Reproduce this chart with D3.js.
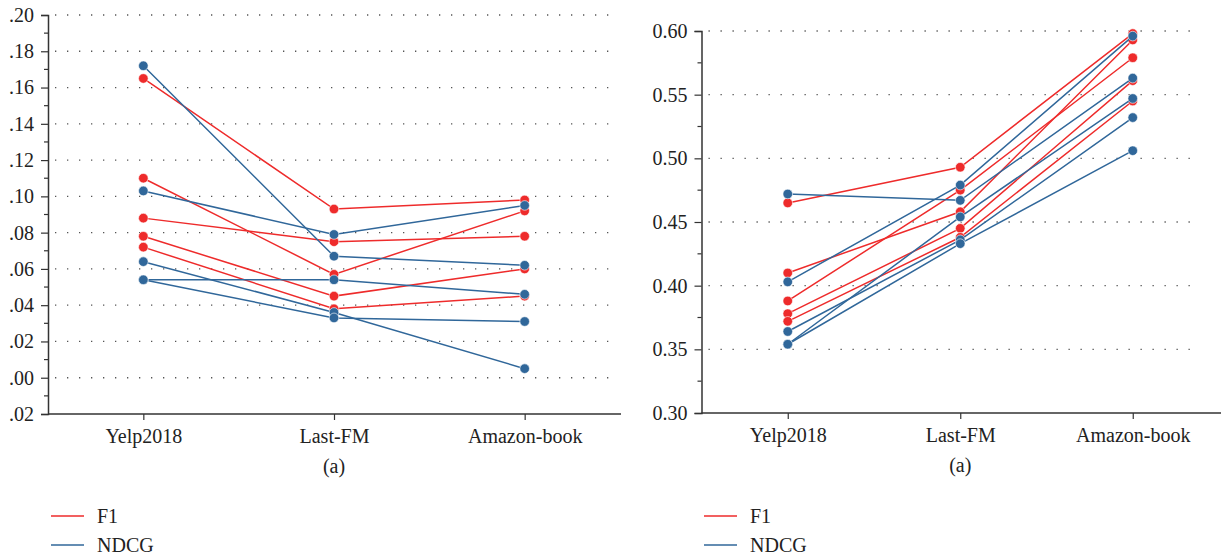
<!DOCTYPE html>
<html>
<head>
<meta charset="utf-8">
<script src="https://cdn.jsdelivr.net/npm/d3@7"></script>
<style>
  html, body { margin: 0; padding: 0; background: #fff; }
  svg { display: block; }
  text { font-family: "Liberation Serif", "DejaVu Serif", serif; fill: #222; }
</style>
</head>
<body>
<svg id="chart" width="1221" height="559"></svg>
<script>
// ---------- data ----------
const categories = ["Yelp2018", "Last-FM", "Amazon-book"];

// Left panel
const leftF1 = [
  [0.165, 0.093, 0.098],
  [0.110, 0.057, 0.092],
  [0.088, 0.075, 0.078],
  [0.078, 0.045, 0.060],
  [0.072, 0.038, 0.045]
];
const leftNDCG = [
  [0.172, 0.067, 0.062],
  [0.103, 0.079, 0.095],
  [0.064, 0.036, 0.005],
  [0.054, 0.054, 0.046],
  [0.054, 0.033, 0.031]
];
const leftTicks = [-0.02, 0.00, 0.02, 0.04, 0.06, 0.08, 0.10, 0.12, 0.14, 0.16, 0.18, 0.20];
const leftTickLabels = [".02", ".00", ".02", ".04", ".06", ".08", ".10", ".12", ".14", ".16", ".18", ".20"];

// Right panel
const rightF1 = [
  [0.465, 0.493, 0.598],
  [0.410, 0.458, 0.593],
  [0.388, 0.475, 0.579],
  [0.378, 0.445, 0.561],
  [0.372, 0.438, 0.545]
];
const rightNDCG = [
  [0.472, 0.467, 0.563],
  [0.403, 0.479, 0.596],
  [0.354, 0.454, 0.547],
  [0.364, 0.436, 0.532],
  [0.354, 0.433, 0.506]
];
const rightTicks = [0.30, 0.35, 0.40, 0.45, 0.50, 0.55, 0.60];
const rightTickLabels = ["0.30", "0.35", "0.40", "0.45", "0.50", "0.55", "0.60"];

const seriesNames = ["F1", "NDCG"];
const subLabel = "(a)";

// ---------- style ----------
const RED = "#ee2b2b";
const BLUE = "#30679a";
const AXIS = "#333";
const FONT = 20;
const FAMILY = "'Liberation Serif', 'DejaVu Serif', serif";

const svg = d3.select("#chart");

function panel(cfg) {
  const g = svg.append("g");
  const x = d3.scalePoint().domain(categories).range([cfg.x0, cfg.x1]).padding(0.5);
  const y = d3.scaleLinear().domain(cfg.domain).range([cfg.yBottom, cfg.yTop]);

  // dotted gridlines (not at the bottom tick)
  g.append("g").selectAll("line")
    .data(cfg.ticks.slice(1))
    .join("line")
    .attr("x1", cfg.x0 + 7)
    .attr("x2", cfg.gridEnd)
    .attr("y1", d => y(d))
    .attr("y2", d => y(d))
    .attr("stroke", "#555")
    .attr("stroke-width", 1.3)
    .attr("stroke-dasharray", "1.3,10.7");

  // minor ticks
  const minor = [];
  for (let i = 0; i < cfg.ticks.length - 1; i++) minor.push((cfg.ticks[i] + cfg.ticks[i + 1]) / 2);
  g.append("g").selectAll("line")
    .data(minor)
    .join("line")
    .attr("x1", cfg.x0 - 4).attr("x2", cfg.x0)
    .attr("y1", d => y(d)).attr("y2", d => y(d))
    .attr("stroke", AXIS).attr("stroke-width", 1.2);

  // y axis
  const yAxis = d3.axisLeft(y)
    .tickValues(cfg.ticks)
    .tickFormat((d, i) => cfg.labels[i])
    .tickSize(7)
    .tickPadding(7);
  const ya = g.append("g").attr("transform", `translate(${cfg.x0},0)`).call(yAxis)
    .attr("font-family", FAMILY).attr("font-size", FONT);
  ya.select(".domain").attr("stroke", AXIS).attr("stroke-width", 1.5);
  ya.selectAll(".tick line").attr("stroke", AXIS).attr("stroke-width", 1.2);
  ya.selectAll(".tick text").attr("fill", "#222");

  // x axis
  const xAxis = d3.axisBottom(x).tickSize(6).tickPadding(9);
  const xa = g.append("g").attr("transform", `translate(0,${cfg.yBottom})`).call(xAxis)
    .attr("font-family", FAMILY).attr("font-size", FONT);
  xa.select(".domain").attr("stroke", AXIS).attr("stroke-width", 1.5)
    .attr("d", `M${cfg.x0},0H${cfg.axisEnd}`);
  xa.selectAll(".tick line").attr("stroke", AXIS).attr("stroke-width", 1.2);
  xa.selectAll(".tick text").attr("fill", "#222");

  // sub label
  g.append("text")
    .attr("x", x(categories[1]))
    .attr("y", cfg.yBottom + 59)
    .attr("text-anchor", "middle")
    .attr("font-size", FONT)
    .text(subLabel);

  const line = d3.line().x((d, i) => x(categories[i])).y(d => y(d));

  function drawSeries(data, color) {
    data.forEach(vals => {
      g.append("path")
        .attr("d", line(vals))
        .attr("fill", "none")
        .attr("stroke", color)
        .attr("stroke-width", 1.5);
    });
    data.forEach(vals => {
      g.append("g").selectAll("circle")
        .data(vals)
        .join("circle")
        .attr("cx", (d, i) => x(categories[i]))
        .attr("cy", d => y(d))
        .attr("r", 4.8)
        .attr("fill", color)
        .attr("stroke", "#fff")
        .attr("stroke-width", 0.6);
    });
  }
  drawSeries(cfg.f1, RED);
  drawSeries(cfg.ndcg, BLUE);

  // legend
  const colors = [RED, BLUE];
  seriesNames.forEach((name, i) => {
    const ly = cfg.legendY + i * 29;
    g.append("line")
      .attr("x1", cfg.legendX).attr("x2", cfg.legendX + 33)
      .attr("y1", ly).attr("y2", ly)
      .attr("stroke", colors[i]).attr("stroke-width", 1.5);
    g.append("text")
      .attr("x", cfg.legendX + 46)
      .attr("y", ly + 7)
      .attr("font-size", FONT)
      .text(name);
  });
}

panel({
  x0: 48, x1: 620, axisEnd: 621, gridEnd: 618,
  yTop: 15, yBottom: 414,
  domain: [-0.02, 0.20],
  ticks: leftTicks, labels: leftTickLabels,
  f1: leftF1, ndcg: leftNDCG,
  legendX: 51, legendY: 516
});

panel({
  x0: 701.5, x1: 1219, axisEnd: 1221, gridEnd: 1198,
  yTop: 31, yBottom: 413,
  domain: [0.30, 0.60],
  ticks: rightTicks, labels: rightTickLabels,
  f1: rightF1, ndcg: rightNDCG,
  legendX: 704, legendY: 516
});
</script>
</body>
</html>
